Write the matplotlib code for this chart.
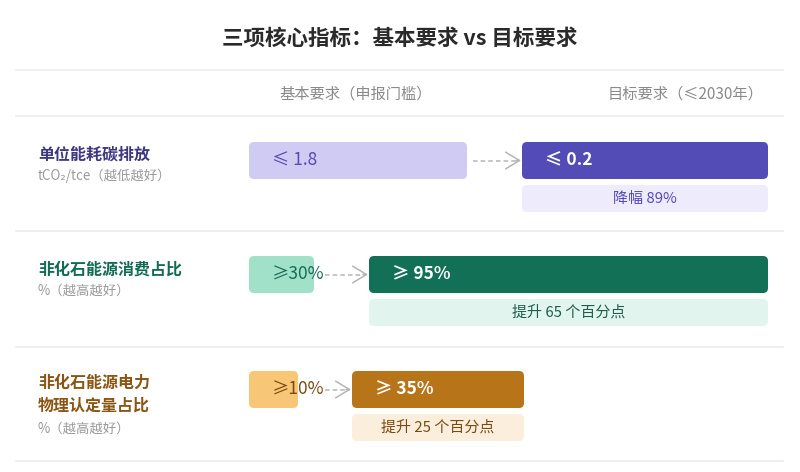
import matplotlib
matplotlib.use("Agg")
import matplotlib.pyplot as plt
from matplotlib.patches import FancyBboxPatch

plt.rcParams['font.family'] = ['Noto Sans CJK SC', 'DejaVu Sans']

# data
metrics = ['单位能耗碳排放', '非化石能源消费占比', '非化石能源电力\n物理认定量占比']
units = ['tCO₂/tce（越低越好）', '%（越高越好）', '%（越高越好）']
basic_labels = ['≤ 1.8', '≥30%', '≥10%']
target_labels = ['≤ 0.2', '≥ 95%', '≥ 35%']
basic_values = [1.8, 30, 10]
target_values = [0.2, 95, 35]
delta_labels = ['降幅 89%', '提升 65 个百分点', '提升 25 个百分点']

# colours per row
dark = ['#3d3780', '#136b55', '#8a5513']
light_bar = ['#cfcbf3', '#a1e1c9', '#f8c677']
light_txt = ['#5549b8', '#176b55', '#7a4a10']
dark_bar = ['#534bb6', '#117056', '#b87418']
delta_bg = ['#edebfc', '#e1f4ed', '#fbeedd']
delta_txt = ['#5549b8', '#1d5e4d', '#7a4a10']

# layout (pixels, the original card is not drawn to scale)
basic_w = [218, 65, 49]
arrow_gap = [55, 55, 54]
target_w = [246, 399, 172]
row_top = [142, 256, 371]
label_y = [155, 270, 383]
sub_y = [176, 291, 429]
x0 = 249
bar_h = 37

fig = plt.figure(figsize=(8, 4.72), dpi=100)
ax = fig.add_axes([0, 0, 1, 1])
ax.set_xlim(0, 800)
ax.set_ylim(472, 0)
ax.axis('off')

ax.text(400, 38, '三项核心指标：基本要求 vs 目标要求', ha='center', va='center',
        fontsize=15.5, fontweight='bold', color='#2a2a2a')

for y in [70, 116, 231, 347, 461]:
    ax.plot([16, 783], [y, y], color='#ececec', lw=1.2)

ax.text(356, 94, '基本要求（申报门槛）', ha='center', va='center', fontsize=11, color='#8a8a8a')
ax.text(686, 94, '目标要求（≤2030年）', ha='center', va='center', fontsize=11, color='#8a8a8a')


def box(x, y, w, h, color):
    ax.add_patch(FancyBboxPatch((x, y), w, h, boxstyle='round,pad=0,rounding_size=5',
                                facecolor=color, edgecolor='none'))


for i in range(len(metrics)):
    top = row_top[i]
    mid = top + bar_h / 2
    if '\n' in metrics[i]:
        lines = metrics[i].split('\n')
        for k, line in enumerate(lines):
            ax.text(38, label_y[i] + 23 * k, line, ha='left', va='center', fontsize=11.5,
                    fontweight='bold', color=dark[i])
    else:
        ax.text(38, label_y[i], metrics[i], ha='left', va='center', fontsize=11.5,
                fontweight='bold', color=dark[i])
    ax.text(38, sub_y[i], units[i], ha='left', va='center', fontsize=9.6, color='#9a9a9a')

    # basic requirement
    box(x0, top, basic_w[i], bar_h, light_bar[i])
    ax.text(272, mid, basic_labels[i], ha='left', va='center', fontsize=12.5,
            color=light_txt[i])

    # dashed arrow, solid chevron head
    tx = x0 + basic_w[i] + arrow_gap[i]
    start = max(x0 + basic_w[i] + 6, 325)
    ax.plot([start, tx - 3], [mid, mid], color='#b5b5b5', lw=1.1, ls=(0, (3, 2)))
    ax.annotate('', xy=(tx - 1, mid), xytext=(tx - 6, mid),
                arrowprops=dict(arrowstyle='->,head_length=0.5,head_width=0.3',
                                color='#b5b5b5', lw=1.1, mutation_scale=20,
                                shrinkA=0, shrinkB=0))

    # target requirement
    box(tx, top, target_w[i], bar_h, dark_bar[i])
    ax.text(tx + 23, mid, target_labels[i], ha='left', va='center', fontsize=12.5,
            fontweight='bold', color='white')

    box(tx, top + bar_h + 6, target_w[i], 27, delta_bg[i])
    ax.text(tx + target_w[i] / 2, top + bar_h + 6 + 13.5, delta_labels[i], ha='center',
            va='center', fontsize=10.8, color=delta_txt[i])

fig.savefig('out.png', dpi=100, facecolor='white')
